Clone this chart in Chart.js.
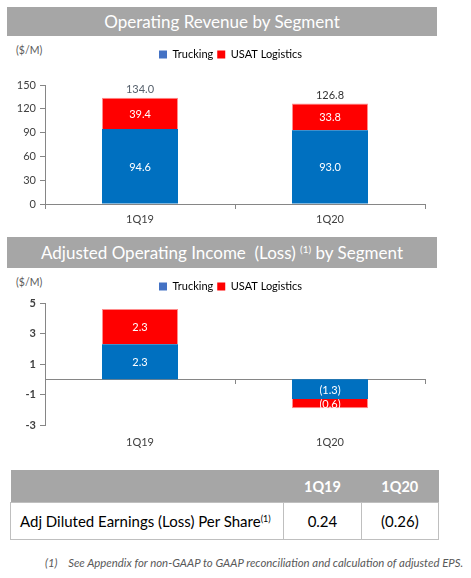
<!DOCTYPE html>
<html>
<head>
<meta charset="utf-8">
<script src="https://cdn.jsdelivr.net/npm/chart.js@4.4.0/dist/chart.umd.min.js"></script>
<style>
  body { margin: 0; background: #fff; font-family: Lato, "Noto Sans", sans-serif; }
  #page { position: relative; width: 471px; height: 578px; overflow: hidden; }
  .banner {
    position: absolute; left: 7px; width: 430px; background: #a6a6a6;
    color: #fff; text-align: center; font-size: 17px;
  }
  .banner sup { font-size: 10px; vertical-align: 6px; line-height: 0; }
  .unit { position: absolute; left: 16px; font-size: 10.5px; color: #595959; }
  .box { position: absolute; left: 0; width: 471px; }
  table {
    position: absolute; left: 10px; top: 470px; width: 429px;
    border-collapse: collapse; font-size: 15px;
  }
  th { background: #a6a6a6; color: #fff; height: 32px; font-weight: bold; padding: 0; font-size: 14.5px; }
  td { border: 1px solid #bfbfbf; height: 36px; padding: 0; text-align: center; color: #000; }
  td.name { text-align: left; padding-left: 9px; }
  td sup { font-size: 9px; vertical-align: 5px; line-height: 0; }
  .note {
    position: absolute; left: 45px; top: 556px; font-size: 11.4px;
    font-style: italic; color: #595959; white-space: nowrap;
  }
</style>
</head>
<body>
<div id="page">
  <div class="banner" style="top:7px;height:29px;line-height:29px;">Operating Revenue by Segment</div>
  <div class="unit" style="top:44px;">($/M)</div>
  <div class="box" style="top:40px;height:190px;"><canvas id="revenue-chart"></canvas></div>

  <div class="banner" style="top:237px;height:31px;line-height:31px;">Adjusted Operating Income&nbsp; (Loss) <sup>(1)</sup> by Segment</div>
  <div class="unit" style="top:276px;">($/M)</div>
  <div class="box" style="top:272px;height:183px;"><canvas id="income-chart"></canvas></div>

  <table id="eps-table"></table>
  <div class="note">(1)&nbsp;&nbsp;&nbsp; See Appendix for non-GAAP to GAAP reconciliation and calculation of adjusted EPS.</div>
</div>

<script>
const quarters = ["1Q19", "1Q20"];
const segmentNames = ["Trucking", "USAT Logistics"];
const revenueTrucking = [94.6, 93.0];
const revenueLogistics = [39.4, 33.8];
const revenueTotals = [134.0, 126.8];
const revenueTicks = [0, 30, 60, 90, 120, 150];
const incomeTrucking = [2.3, -1.3];
const incomeLogistics = [2.3, -0.6];
const incomeTicks = [-3, -1, 1, 3, 5];
const epsLabel = "Adj Diluted Earnings (Loss) Per Share";
const epsValues = [0.24, -0.26];

const truckBlue = "#0070c0";
const truckLegend = "#4472c4";
const usatRed = "#ff0000";
const axisGray = "#868686";
const textGray = "#404040";
const totalColors = ["#56606c", "#333333"];

// numbers in brackets when negative, like the slide
const fmt = (v, digits) => (v < 0 ? "(" + Math.abs(v).toFixed(digits) + ")" : v.toFixed(digits));

// extra room under the legend, and nudge it right so it sits over the plot
const legendGap = (extra, shift) => ({
  id: "legendGap",
  beforeInit(chart) {
    const fit = chart.legend.fit;
    chart.legend.fit = function () {
      fit.bind(chart.legend)();
      this.height += extra;
    };
  },
  afterLayout(chart) {
    chart.legend.left += shift;
    chart.legend.right += shift;
  },
});

const barLabels = {
  id: "barLabels",
  afterDatasetsDraw(chart, args, opts) {
    const ctx = chart.ctx;
    ctx.save();
    ctx.font = "11px Lato";
    ctx.textAlign = "center";
    ctx.textBaseline = "middle";
    ctx.fillStyle = "#fff";
    chart.data.datasets.forEach((ds, i) => {
      chart.getDatasetMeta(i).data.forEach((bar, j) => {
        ctx.fillText(fmt(ds.data[j], 1), bar.x, (bar.y + bar.base) / 2 + 1);
      });
    });
    if (opts.totals) {
      const last = chart.getDatasetMeta(chart.data.datasets.length - 1);
      last.data.forEach((bar, j) => {
        ctx.fillStyle = totalColors[j];
        ctx.fillText(fmt(opts.totals[j], 1), bar.x, bar.y - 8);
      });
    }
    ctx.restore();
  },
};

const legendOpts = {
  position: "top",
  labels: {
    boxWidth: 8,
    boxHeight: 8,
    padding: 4,
    color: "#595959",
    font: { family: "Lato", size: 11 },
    generateLabels: () =>
      segmentNames.map((name, i) => ({
        text: name,
        fillStyle: i === 0 ? truckLegend : usatRed,
        strokeStyle: "transparent",
        lineWidth: 0,
        datasetIndex: i,
      })),
  },
};

const yAxisBase = {
  border: { color: axisGray },
  grid: { drawOnChartArea: false, tickLength: 5, color: axisGray },
  afterFit: (s) => { s.width = 45; },
};

const tickFont = { family: "Lato", size: 11 };

const makeDatasets = (trucking, logistics) => [
  { label: segmentNames[0], data: trucking, backgroundColor: truckBlue, barPercentage: 0.4, categoryPercentage: 1 },
  {
    label: segmentNames[1], data: logistics, backgroundColor: usatRed,
    borderColor: "#ff8c8c", borderWidth: 1, barPercentage: 0.4, categoryPercentage: 1,
  },
];

new Chart(document.getElementById("revenue-chart"), {
  type: "bar",
  data: { labels: quarters, datasets: makeDatasets(revenueTrucking, revenueLogistics) },
  options: {
    responsive: true,
    maintainAspectRatio: false,
    animation: false,
    layout: { padding: { left: 0, right: 46, top: 5, bottom: 0 } },
    plugins: { legend: legendOpts, tooltip: { enabled: false }, barLabels: { totals: revenueTotals } },
    scales: {
      x: {
        stacked: true,
        border: { color: axisGray },
        grid: { drawOnChartArea: false, tickLength: 5, color: axisGray, offset: true },
        ticks: { color: textGray, font: tickFont, padding: 4 },
        afterFit: (s) => { s.height = 26; },
      },
      y: {
        ...yAxisBase,
        stacked: true,
        min: 0,
        max: 150,
        ticks: { stepSize: 30, color: textGray, font: tickFont, padding: 4 },
        afterBuildTicks: (s) => { s.ticks = revenueTicks.map((v) => ({ value: v })); },
      },
    },
  },
  plugins: [legendGap(15, 18), barLabels],
});

new Chart(document.getElementById("income-chart"), {
  type: "bar",
  data: { labels: quarters, datasets: makeDatasets(incomeTrucking, incomeLogistics) },
  options: {
    responsive: true,
    maintainAspectRatio: false,
    animation: false,
    layout: { padding: { left: 0, right: 46, top: 5, bottom: 0 } },
    plugins: { legend: legendOpts, tooltip: { enabled: false }, barLabels: {} },
    scales: {
      x: {
        stacked: true,
        position: { y: 0 },
        border: { color: axisGray },
        grid: { drawOnChartArea: false, tickLength: 4, color: axisGray, offset: true },
        ticks: { display: false },
      },
      x2: {
        type: "category",
        labels: quarters,
        position: "bottom",
        border: { display: false },
        grid: { display: false },
        ticks: { color: textGray, font: tickFont, padding: 3 },
        afterFit: (s) => { s.height = 30; },
      },
      y: {
        ...yAxisBase,
        stacked: true,
        min: -3,
        max: 5,
        ticks: { stepSize: 2, color: textGray, font: { family: "Lato", size: 11, weight: "bold" }, padding: 4 },
        afterBuildTicks: (s) => { s.ticks = incomeTicks.map((v) => ({ value: v })); },
      },
    },
  },
  plugins: [legendGap(1, 18), barLabels],
});

// eps table
const table = document.getElementById("eps-table");
table.innerHTML =
  "<tr><th style='width:272px'></th>" +
  quarters.map((q) => "<th style='width:77px'>" + q + "</th>").join("") +
  "</tr><tr><td class='name'>" + epsLabel + "<sup>(1)</sup></td>" +
  epsValues.map((v) => "<td>" + fmt(v, 2) + "</td>").join("") +
  "</tr>";
</script>
</body>
</html>
